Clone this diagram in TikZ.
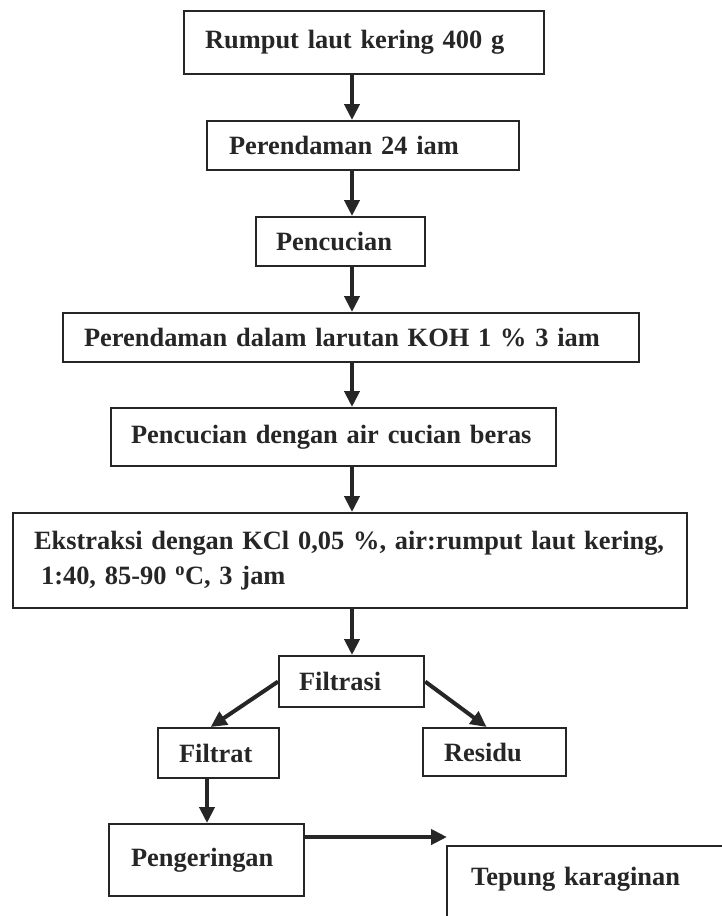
\documentclass[tikz,border=0pt]{standalone}
\usepackage{fontspec}
\setmainfont{Liberation Serif}[WordSpace=0.75]
\usetikzlibrary{arrows.meta,calc}
\begin{document}
\begin{tikzpicture}[x=1pt,y=-1pt,
  box/.style={draw=black!85,line width=2.2pt,anchor=north west,inner ysep=0pt,
    align=left,font=\fontsize{26.4}{35}\selectfont\bfseries,text=black!85},
  arr/.style={draw=black!85,line width=4pt,-{Triangle[width=15pt,length=16pt]}}]
\useasboundingbox (0,0) rectangle (721,916);
\fill[white] (0,0) rectangle (721,916);
% boxes: left, top, width, height ; text padding
\node[box,inner xsep=21pt,text width=318pt,minimum height=63pt] (b1) at (183,10) {\mbox{Rumput laut kering 400 g}};
\node[box,inner xsep=22pt,text width=268pt,minimum height=49pt] (b2) at (206,120) {\mbox{Perendaman 24 iam}};
\node[box,inner xsep=20pt,text width=129pt,minimum height=49pt] (b3) at (255,216) {\mbox{Pencucian}};
\node[box,inner xsep=21pt,text width=534pt,minimum height=49pt] (b4) at (62,312) {\mbox{Perendaman dalam larutan KOH 1 \% 3 iam}};
\node[box,inner xsep=20pt,text width=405pt,minimum height=58pt] (b5) at (110,407) {\mbox{Pencucian dengan air cucian beras}};
\node[box,inner xsep=21pt,text width=632pt,minimum height=95pt] (b6) at (12,512) {\mbox{Ekstraksi dengan KCl 0,05 \%, air:rumput laut kering,}\\\mbox{\hspace{7pt}1:40, 85-90 \textsuperscript{o}C, 3 jam}};
\node[box,inner xsep=20pt,text width=105pt,minimum height=51pt] (fil) at (278,655) {\mbox{Filtrasi}};
\node[box,inner xsep=21pt,text width=79pt,minimum height=50pt] (filt) at (157,727) {\mbox{Filtrat}};
\node[box,inner xsep=21pt,text width=101pt,minimum height=48pt] (res) at (422,727) {\mbox{Residu}};
\node[box,inner xsep=22pt,text width=151pt,minimum height=72pt] (peng) at (108,823) {\mbox{Pengeringan}\\[10pt]};
\node[box,draw=none,inner xsep=23pt,text width=260pt,minimum height=64pt] (tep) at (447,846) {\mbox{Tepung karaginan}};
\draw[draw=black!85,line width=2.2pt] (tep.north west) rectangle ++(320,110);
% connectors
\coordinate (sp) at (352,0);
\coordinate (fx) at (207,0);
\draw[arr] (b1.south -| sp) -- (b2.north -| sp);
\draw[arr] (b2.south -| sp) -- (b3.north -| sp);
\draw[arr] (b3.south -| sp) -- (b4.north -| sp);
\draw[arr] (b4.south -| sp) -- (b5.north -| sp);
\draw[arr] (b5.south -| sp) -- (b6.north -| sp);
\draw[arr] (b6.south -| sp) -- (fil.north -| sp);
\draw[arr] (fil.west) -- ($(filt.north)+(-8,0)$);
\draw[arr] (fil.east) -- ($(res.north)+(-8,0)$);
\draw[arr] (filt.south -| fx) -- (peng.north -| fx);
\draw[arr] ($(peng.north east)+(0,14)$) -- ($(tep.north west)+(0,-9)$);
\end{tikzpicture}
\end{document}
